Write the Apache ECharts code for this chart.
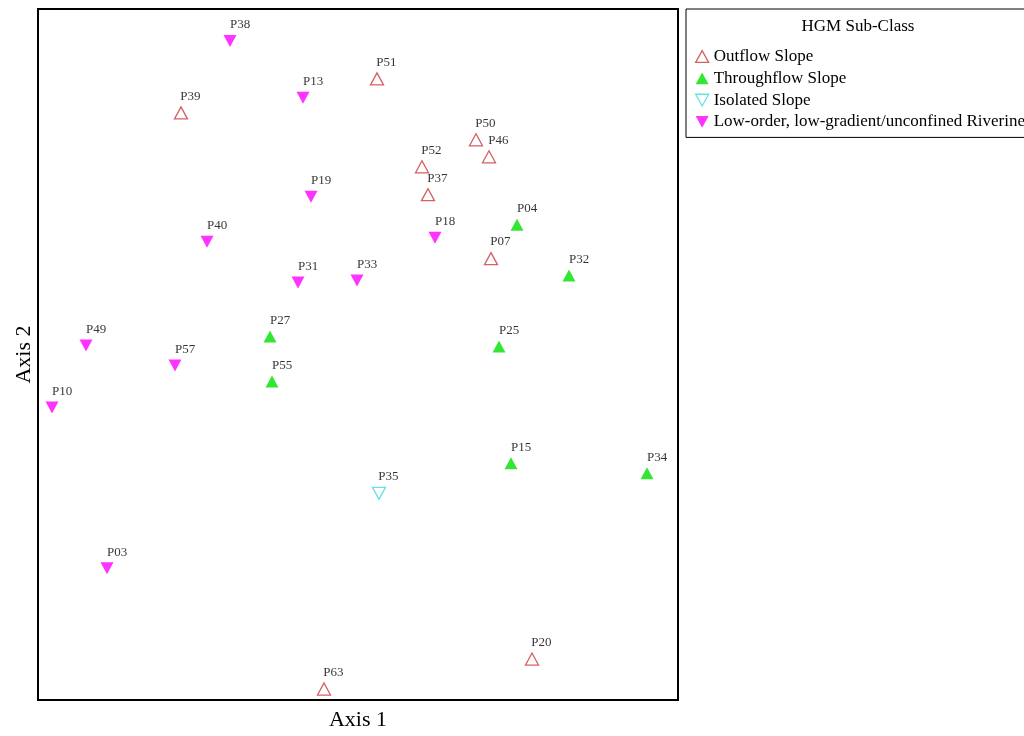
<!DOCTYPE html>
<html>
<head>
<meta charset="utf-8">
<script src="https://cdn.jsdelivr.net/npm/echarts@6/dist/echarts.min.js"></script>
<style>html,body{margin:0;padding:0;background:#fff;}#c{width:1024px;height:736px;}</style>
</head>
<body>
<div id="c"></div>
<script>
// Ordination scores (arbitrary units, axes unlabeled)
const outflowNames = ['P51','P39','P50','P46','P52','P37','P07','P20','P63'];
const outflowX = [339,143,438,451,384,390,453,494,286];
const outflowY = [622,588,561,544,534,506,442,41,11];

const throughNames = ['P04','P32','P27','P25','P55','P15','P34'];
const throughX = [479,531,232,461,234,473,609];
const throughY = [476,425,364,354,319,237,227];

const isolatedNames = ['P35'];
const isolatedX = [341];
const isolatedY = [207];

const riverineNames = ['P38','P13','P19','P40','P18','P31','P33','P49','P57','P10','P03'];
const riverineX = [192,265,273,169,397,260,319,48,137,14,69];
const riverineY = [660,603,504,459,463,418,420,355,335,293,132];

const seriesNames = ['Outflow Slope','Throughflow Slope','Isolated Slope','Low-order, low-gradient/unconfined Riverine'];

function pts(names, xs, ys){ return names.map((n,i)=>({name:n, value:[xs[i], ys[i]]})); }

const UP = 'path://M5,0L10,9L0,9Z';
const DOWN = 'path://M0,0L10,0L5,9Z';
const FONT = '"Liberation Serif", "Times New Roman", serif';

const styles = [
  {symbol: UP,   itemStyle:{color:'#ffffff', borderColor:'#c8383c', borderWidth:1.3}},
  {symbol: UP,   itemStyle:{color:'#00e000', borderColor:'#00e000', borderWidth:0}},
  {symbol: DOWN, itemStyle:{color:'#ffffff', borderColor:'#40d8e0', borderWidth:1.3}},
  {symbol: DOWN, itemStyle:{color:'#ff00ff', borderColor:'#ff00ff', borderWidth:0}}
];
const datasets = [
  pts(outflowNames, outflowX, outflowY),
  pts(throughNames, throughX, throughY),
  pts(isolatedNames, isolatedX, isolatedY),
  pts(riverineNames, riverineX, riverineY)
];

const chart = echarts.init(document.getElementById('c'), null, {renderer:'canvas'});
chart.setOption({
  animation:false,
  backgroundColor:'#fff',
  grid:{left:38, top:9, width:640, height:692, show:true, borderColor:'#000', borderWidth:2, backgroundColor:'transparent'},
  xAxis:{type:'value', min:0, max:640, name:'Axis 1', nameLocation:'middle', nameGap:9,
    nameTextStyle:{fontFamily:FONT, fontSize:22, color:'#000'},
    axisLine:{show:false}, axisTick:{show:false}, axisLabel:{show:false}, splitLine:{show:false}},
  yAxis:{type:'value', min:0, max:692, name:'Axis 2', nameLocation:'middle', nameGap:3,
    nameTextStyle:{fontFamily:FONT, fontSize:22, color:'#000'},
    axisLine:{show:false}, axisTick:{show:false}, axisLabel:{show:false}, splitLine:{show:false}},
  legend:{
    orient:'vertical', left:686, top:9,
    padding:[39, 60, 7, 9],
    borderColor:'#000', borderWidth:1, backgroundColor:'#fff',
    itemWidth:13, itemHeight:12, itemGap:4.8, itemTextGap:5,
    textStyle:{fontFamily:FONT, fontSize:17, color:'#000', lineHeight:14},
    data: seriesNames.map((n,i)=>({name:n, icon:styles[i].symbol, itemStyle:styles[i].itemStyle}))
  },
  graphic:[{type:'text', x:858, y:27, z:100,
    style:{text:'HGM Sub-Class', font:'17px ' + FONT, fill:'#000', align:'center', verticalAlign:'middle'}}],
  series: seriesNames.map((n,i)=>({
    type:'scatter', name:n, data:datasets[i],
    symbol:styles[i].symbol, symbolSize:[13,12],
    itemStyle:styles[i].itemStyle,
    label:{show:true, formatter:'{b}', position:[6.5,-10], align:'left', verticalAlign:'middle',
      fontFamily:FONT, fontSize:13, color:'#000'}
  }))
});
</script>
</body>
</html>
